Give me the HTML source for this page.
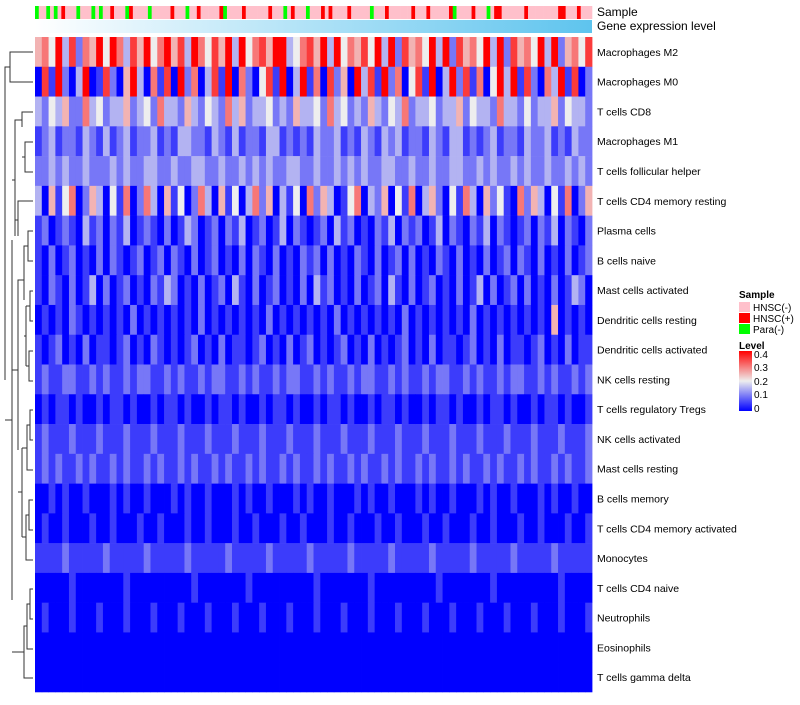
<!DOCTYPE html>
<html><head><meta charset="utf-8"><style>
body{margin:0;background:#fff;font-family:"Liberation Sans",sans-serif}
svg text{font-family:"Liberation Sans",sans-serif}
</style></head><body>
<svg id="chart" width="800" height="700" viewBox="0 0 800 700" xmlns="http://www.w3.org/2000/svg">
<defs>
<linearGradient id="gexp" x1="0" x2="1" y1="0" y2="0"><stop offset="0" stop-color="#ffffff"/><stop offset="1" stop-color="#5ec4ee"/></linearGradient>
<linearGradient id="lvl" x1="0" x2="0" y1="0" y2="1"><stop offset="0" stop-color="#ff0000"/><stop offset="0.5" stop-color="#eeeeee"/><stop offset="1" stop-color="#0000ff"/></linearGradient>
</defs>
<g id="cells"></g>
<g id="ann"></g>
<rect x="35" y="20" width="557" height="13" fill="url(#gexp)"/>
<text x="597" y="16" font-size="12">Sample</text>
<text x="597" y="30" font-size="12">Gene expression level</text>
<g id="labels"></g>
<path fill="none" stroke="#333" stroke-width="1"
d="M33,52 H10 V82 H33 M10,67 H5 V380
M33,112 H22 V127 M33,142 H25 V172 H33 M25,157 H22 M22,120 H15 V236
M33,201 H18 V236 M18,220 H15 M15,180 H12
M33,231 H28 V261 H33 M28,246 H24 V300
M33,291 H30 V321 H33 M30,306 H26 M33,351 H29 V381 H33 M29,366 H26 M26,306 V366 M26,336 H24
M24,280 H18 V450
M33,410 H30 V440 H33 M30,425 H27 V470 H33 M27,448 H22
M33,500 H29 V530 H33 M29,515 H26 V560 H33 M26,537 H22 M22,448 V537 M22,492 H18
M18,370 H12 V240 M12,240 H12 V600
M33,589 H30 V619 H33 M30,604 H27 V649 H33 M27,626 H24 V678 H33 M24,652 H12
M12,420 H5"/>
<g>
<text x="739" y="298" font-size="10" font-weight="bold">Sample</text>
<rect x="739" y="302" width="11" height="10" fill="#ffc0cb"/>
<text x="753" y="311" font-size="10">HNSC(-)</text>
<rect x="739" y="313" width="11" height="10" fill="#ff0000"/>
<text x="753" y="322" font-size="10">HNSC(+)</text>
<rect x="739" y="324" width="11" height="10" fill="#00ff00"/>
<text x="753" y="333" font-size="10">Para(-)</text>
<text x="739" y="349" font-size="10" font-weight="bold">Level</text>
<rect x="739" y="351" width="13" height="60" fill="url(#lvl)"/>
<text x="754" y="358" font-size="10">0.4</text>
<text x="754" y="371" font-size="10">0.3</text>
<text x="754" y="385" font-size="10">0.2</text>
<text x="754" y="398" font-size="10">0.1</text>
<text x="754" y="412" font-size="10">0</text>
</g>
</svg>
<script>
const rowNames=["Macrophages M2","Macrophages M0","T cells CD8","Macrophages M1","T cells follicular helper","T cells CD4 memory resting","Plasma cells","B cells naive","Mast cells activated","Dendritic cells resting","Dendritic cells activated","NK cells resting","T cells regulatory  Tregs","NK cells activated","Mast cells resting","B cells memory","T cells CD4 memory activated","Monocytes","T cells CD4 naive","Neutrophils","Eosinophils","T cells gamma delta"];
// level codes per row: value = digit * 0.05
const rowLevels=[
"5648372658486375946857386475938467589346758394657483927564839275648392756483925647",
"0718203801720583061708260371806204719038160725093718260471903827160493817206381702",
"3243522634233523426332532432635233423253342634232532436233423352433263324233524332",
"1231221321312312231213322132131221331212132231213213231221321331212312213223121322",
"2232322322232322332232233223223232322332232232323223322322322332232322323223223232",
"3051460253041602630514026305140362503140625301460325041603520416305241062530416025",
"1201210312021301210201320120213012013021012031201021302120130210213021012021302102",
"1020120102021012012021020120102021020102120201021020120201021020102012021020102012",
"1021020130201201021320102012031020120102031201020120310201201020130201202010201320",
"0101021010101020101010102010101010201010101020101010102010101010201010101010501010",
"1012010201101201021010120102011012010201201012010201012010201101201020110120102011",
"1211221121211212211212112122112121121221121211212211212112122112121121221121211212",
"0101101001011010010110100101101001011010010110100101101001011010010110100101101001",
"1211121112111211121112111211121112111211121112111211121112111211121112111211121112",
"1212112121121211212112121121211212112121121211212112121121211212112121121211212112",
"0010100100010100100010100100010100100010100100010100100010100100010100100010100100",
"0100100010010001001000100100010010001001000100100010010001001000100100010010001001",
"1111211111211111211111211111211111211111211111211111211111211111211111211111211111",
"0000010000000100000000010000000100000000010000000100000000010000000100000000010000",
"0100010001000100010001000100010001000100010001000100010001000100010001000100010001",
"0000000000000000000000000000000000000000000000000000000000000000000000000000000000",
"0000000000000000000000000000000000000000000000000000000000000000000000000000000000"];
// sample annotation: p = HNSC(-), r = HNSC(+), g = Para(-)
const sampleCodes="gppgpgprpppgpppgpgpprpppgrppppgppppprpppgpprppppprgpppprpppppprpppgprpppgppprprpppprpppppgppprpppppprppprppppprgpppprpppgprrpppppprpppppppprrppprppp";
const x0=35,x1=592,y0=37,y1=692;
const rowH=(y1-y0)/rowNames.length;
function colorFor(v){
 v=Math.max(0,Math.min(0.4,v));
 let r,g,b;
 if(v<0.2){const t=v/0.2;r=Math.round(238*t);g=Math.round(238*t);b=Math.round(255-17*t);}
 else{const t=(v-0.2)/0.2;r=Math.round(238+17*t);g=Math.round(238*(1-t));b=Math.round(238*(1-t));}
 return `rgb(${r},${g},${b})`;
}
const NS="http://www.w3.org/2000/svg";
const cells=document.getElementById('cells');
rowLevels.forEach((s,i)=>{
 const w=(x1-x0)/s.length;
 for(let j=0;j<s.length;j++){
  const r=document.createElementNS(NS,'rect');
  r.setAttribute('x',(x0+j*w).toFixed(2));
  r.setAttribute('y',(y0+i*rowH).toFixed(2));
  r.setAttribute('width',(w+0.4).toFixed(2));
  r.setAttribute('height',(rowH+0.3).toFixed(2));
  r.setAttribute('fill',colorFor(Number(s[j])*0.05));
  
  
  cells.appendChild(r);
 }
});
const ann=document.getElementById('ann');
const sw=(x1-x0)/sampleCodes.length;
const sc={p:'#ffc0cb',r:'#ff0000',g:'#00ff00'};
for(let j=0;j<sampleCodes.length;j++){
 const r=document.createElementNS(NS,'rect');
 r.setAttribute('x',(x0+j*sw).toFixed(2));
 r.setAttribute('y','6');
 r.setAttribute('width',(sw+0.3).toFixed(2));
 r.setAttribute('height','13');
 r.setAttribute('fill',sc[sampleCodes[j]]);
 
 
 ann.appendChild(r);
}
const labels=document.getElementById('labels');
rowNames.forEach((n,i)=>{
 const t=document.createElementNS(NS,'text');
 t.setAttribute('x','597');
 t.setAttribute('y',(y0+i*rowH+rowH/2+4).toFixed(1));
 t.setAttribute('font-size','10.5');
 t.textContent=n;
 
 
 labels.appendChild(t);
});
</script>
</body></html>
